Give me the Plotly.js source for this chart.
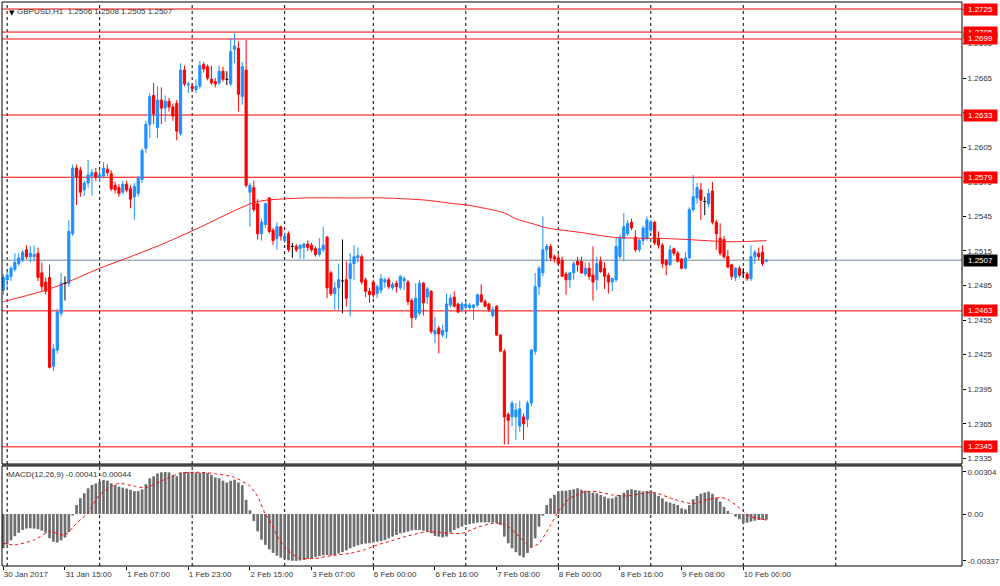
<!DOCTYPE html>
<html>
<head>
<meta charset="utf-8">
<script src="https://cdn.plot.ly/plotly-3.0.1.min.js"></script>
<style>html,body{margin:0;padding:0;background:#fff;}#chart{width:1000px;height:586px;}</style>
</head>
<body>
<div id="chart"></div>
<script>
// ---------- DATA ----------
const symbolTitle = "GBPUSD,H1";
const open = [
1.2481,1.2490,1.2493,1.2499,1.2504,1.2507,1.2516,1.2510,1.2510,1.2513,
1.2496,1.2488,1.2492,1.2415,1.2429,1.2461,1.2487,1.2487,1.2530,1.2587,
1.2585,1.2568,1.2574,1.2580,1.2583,1.2579,1.2580,1.2586,1.2582,1.2572,
1.2570,1.2566,1.2573,1.2569,1.2562,1.2565,1.2577,1.2604,1.2625,1.2650,
1.2622,1.2646,1.2639,1.2645,1.2640,1.2643,1.2617,1.2672,1.2659,1.2658,
1.2655,1.2658,1.2677,1.2675,1.2664,1.2662,1.2661,1.2671,1.2664,1.2660,
1.2690,1.2691,1.2649,1.2672,1.2566,1.2570,1.2556,1.2530,1.2538,1.2561,
1.2533,1.2526,1.2536,1.2524,1.2530,1.2519,1.2519,1.2517,1.2518,1.2521,
1.2520,1.2517,1.2512,1.2516,1.2527,1.2496,1.2478,1.2483,1.2489,1.2490,
1.2491,1.2504,1.2509,1.2510,1.2490,1.2480,1.2488,1.2478,1.2481,1.2488,
1.2490,1.2483,1.2487,1.2483,1.2489,1.2488,1.2472,1.2457,1.2461,1.2487,
1.2475,1.2480,1.2443,1.2448,1.2442,1.2445,1.2468,1.2475,1.2469,1.2464,
1.2466,1.2466,1.2466,1.2468,1.2477,1.2471,1.2469,1.2459,1.2467,1.2442,
1.2428,1.2373,1.2371,1.2371,1.2363,1.2371,1.2369,1.2383,1.2428,1.2484,
1.2496,1.2516,1.2519,1.2510,1.2509,1.2507,1.2495,1.2490,1.2496,1.2506,
1.2506,1.2495,1.2500,1.2494,1.2490,1.2506,1.2500,1.2494,1.2488,1.2490,
1.2510,1.2526,1.2530,1.2540,1.2527,1.2516,1.2524,1.2526,1.2533,1.2540,
1.2526,1.2520,1.2507,1.2503,1.2517,1.2513,1.2508,1.2500,1.2509,1.2551,
1.2561,1.2568,1.2558,1.2556,1.2567,1.2540,1.2526,1.2525,1.2510,1.2503,
1.2492,1.2500,1.2496,1.2495,1.2491,1.2510,1.2513,1.2514,1.2506
];
const high = [
1.2495,1.2497,1.2502,1.2513,1.2513,1.2516,1.2520,1.2519,1.2520,1.2518,
1.2505,1.2492,1.2503,1.2434,1.2465,1.2496,1.2493,1.2542,1.2590,1.2590,
1.2588,1.2576,1.2594,1.2586,1.2587,1.2586,1.2592,1.2590,1.2585,1.2575,
1.2573,1.2576,1.2576,1.2572,1.2574,1.2580,1.2604,1.2628,1.2652,1.2661,
1.2658,1.2657,1.2650,1.2648,1.2643,1.2646,1.2678,1.2676,1.2662,1.2660,
1.2664,1.2680,1.2679,1.2677,1.2676,1.2665,1.2676,1.2675,1.2671,1.2699,
1.2704,1.2697,1.2679,1.2698,1.2574,1.2576,1.2560,1.2543,1.2557,1.2562,
1.2535,1.2540,1.2537,1.2531,1.2532,1.2522,1.2521,1.2521,1.2522,1.2524,
1.2522,1.2519,1.2526,1.2536,1.2528,1.2498,1.2488,1.2504,1.2525,1.2506,
1.2513,1.2520,1.2518,1.2512,1.2492,1.2483,1.2490,1.2486,1.2495,1.2492,
1.2492,1.2488,1.2489,1.2494,1.2493,1.2490,1.2474,1.2487,1.2490,1.2488,
1.2484,1.2481,1.2458,1.2450,1.2451,1.2478,1.2477,1.2480,1.2470,1.2471,
1.2471,1.2470,1.2469,1.2478,1.2486,1.2473,1.2470,1.2467,1.2468,1.2443,
1.2430,1.2375,1.2385,1.2383,1.2385,1.2374,1.2385,1.2430,1.2496,1.2502,
1.2545,1.2521,1.2521,1.2512,1.2512,1.2510,1.2497,1.2497,1.2506,1.2510,
1.2510,1.2505,1.2505,1.2519,1.2510,1.2510,1.2505,1.2496,1.2492,1.2527,
1.2529,1.2548,1.2542,1.2543,1.2533,1.2526,1.2537,1.2545,1.2542,1.2541,
1.2532,1.2522,1.2508,1.2520,1.2518,1.2515,1.2509,1.2514,1.2553,1.2581,
1.2574,1.2574,1.2562,1.2569,1.2575,1.2542,1.2539,1.2528,1.2516,1.2504,
1.2501,1.2502,1.2500,1.2497,1.2520,1.2516,1.2518,1.2520,1.2508
];
const low = [
1.2477,1.2484,1.2489,1.2497,1.2502,1.2505,1.2508,1.2505,1.2506,1.2489,
1.2480,1.2477,1.2413,1.2411,1.2426,1.2458,1.2472,1.2484,1.2528,1.2555,
1.2562,1.2563,1.2570,1.2563,1.2576,1.2575,1.2578,1.2580,1.2567,1.2565,
1.2562,1.2564,1.2566,1.2552,1.2542,1.2562,1.2574,1.2600,1.2613,1.2625,
1.2613,1.2625,1.2627,1.2636,1.2628,1.2611,1.2615,1.2658,1.2652,1.2653,
1.2652,1.2656,1.2670,1.2663,1.2659,1.2657,1.2659,1.2662,1.2659,1.2658,
1.2678,1.2636,1.2642,1.2570,1.2536,1.2549,1.2525,1.2524,1.2535,1.2530,
1.2520,1.2516,1.2524,1.2522,1.2514,1.2509,1.2514,1.2508,1.2508,1.2515,
1.2514,1.2510,1.2510,1.2514,1.2474,1.2476,1.2464,1.2464,1.2461,1.2467,
1.2458,1.2490,1.2505,1.2486,1.2475,1.2470,1.2474,1.2474,1.2478,1.2483,
1.2482,1.2481,1.2479,1.2481,1.2481,1.2468,1.2448,1.2455,1.2459,1.2459,
1.2469,1.2443,1.2435,1.2426,1.2440,1.2439,1.2466,1.2466,1.2461,1.2462,
1.2464,1.2464,1.2455,1.2466,1.2470,1.2466,1.2462,1.2457,1.2441,1.2427,
1.2347,1.2347,1.2363,1.2351,1.2358,1.2351,1.2362,1.2380,1.2425,1.2477,
1.2493,1.2506,1.2506,1.2505,1.2503,1.2493,1.2477,1.2483,1.2490,1.2497,
1.2495,1.2493,1.2490,1.2472,1.2481,1.2496,1.2482,1.2478,1.2480,1.2488,
1.2508,1.2506,1.2528,1.2533,1.2514,1.2514,1.2520,1.2524,1.2531,1.2520,
1.2517,1.2500,1.2494,1.2502,1.2511,1.2505,1.2499,1.2499,1.2508,1.2549,
1.2556,1.2542,1.2546,1.2553,1.2538,1.2516,1.2511,1.2508,1.2500,1.2490,
1.2489,1.2492,1.2492,1.2489,1.2489,1.2504,1.2507,1.2502,1.2505
];
const close = [
1.2492,1.2494,1.2500,1.2505,1.2509,1.2514,1.2510,1.2513,1.2512,1.2492,
1.2484,1.2480,1.2414,1.2430,1.2462,1.2487,1.2487,1.2532,1.2587,1.2579,
1.2566,1.2574,1.2581,1.2583,1.2579,1.2581,1.2587,1.2583,1.2569,1.2568,
1.2565,1.2573,1.2568,1.2560,1.2571,1.2578,1.2602,1.2625,1.2649,1.2634,
1.2646,1.2639,1.2645,1.2640,1.2632,1.2619,1.2672,1.2660,1.2660,1.2656,
1.2658,1.2676,1.2673,1.2665,1.2661,1.2660,1.2671,1.2664,1.2664,1.2688,
1.2693,1.2651,1.2675,1.2572,1.2572,1.2551,1.2530,1.2540,1.2556,1.2532,
1.2524,1.2536,1.2528,1.2528,1.2516,1.2519,1.2516,1.2520,1.2521,1.2518,
1.2516,1.2512,1.2517,1.2520,1.2483,1.2478,1.2483,1.2490,1.2489,1.2474,
1.2504,1.2510,1.2511,1.2488,1.2480,1.2477,1.2477,1.2484,1.2491,1.2490,
1.2484,1.2486,1.2484,1.2493,1.2491,1.2471,1.2457,1.2474,1.2487,1.2470,
1.2482,1.2445,1.2446,1.2443,1.2446,1.2469,1.2474,1.2467,1.2462,1.2469,
1.2469,1.2468,1.2468,1.2477,1.2471,1.2467,1.2464,1.2464,1.2442,1.2428,
1.2371,1.2368,1.2383,1.2377,1.2378,1.2365,1.2383,1.2429,1.2484,1.2500,
1.2516,1.2519,1.2509,1.2508,1.2504,1.2493,1.2490,1.2496,1.2504,1.2503,
1.2496,1.2500,1.2493,1.2488,1.2504,1.2497,1.2493,1.2488,1.2491,1.2519,
1.2526,1.2536,1.2539,1.2535,1.2516,1.2524,1.2535,1.2542,1.2540,1.2522,
1.2520,1.2504,1.2503,1.2516,1.2513,1.2506,1.2500,1.2509,1.2551,1.2562,
1.2570,1.2559,1.2558,1.2565,1.2540,1.2530,1.2513,1.2510,1.2501,1.2493,
1.2500,1.2494,1.2496,1.2491,1.2510,1.2514,1.2510,1.2504,1.2507
];
// moving average line (read at these bars)
const maBars = [0,10,16,25,33,42,50,55,60,65,68,78,90,99,110,117,120,125,130,133,138,141,150,158,166,170,177,189,198];
const maVals = [1.2471,1.2480,1.2487,1.2500,1.2510,1.2522,1.2534,1.2542,1.2550,1.2557,1.2559,1.2561,1.2561,1.2561,1.2559,1.2556,1.2555,1.2552,1.2548,1.2543,1.2538,1.2535,1.2531,1.2527,1.2526,1.2526,1.2525,1.2523,1.2524];
// MACD(12,26,9) main histogram
const macd = [
-0.00247,-0.00220,-0.00190,-0.00160,-0.00135,-0.00115,-0.00105,-0.00103,-0.00105,-0.00110,
-0.00120,-0.00135,-0.00175,-0.00200,-0.00205,-0.00190,-0.00170,-0.00130,-0.00010,0.00065,
0.00113,0.00149,0.00185,0.00209,0.00220,0.00233,0.00245,0.00240,0.00221,0.00210,
0.00197,0.00190,0.00183,0.00175,0.00165,0.00165,0.00177,0.00215,0.00257,0.00272,
0.00292,0.00300,0.00302,0.00300,0.00280,0.00272,0.00298,0.00302,0.00302,0.00303,
0.00300,0.00297,0.00300,0.00296,0.00282,0.00264,0.00257,0.00240,0.00227,0.00240,
0.00247,0.00227,0.00207,0.00102,0.00027,-0.00050,-0.00125,-0.00185,-0.00222,-0.00255,
-0.00280,-0.00300,-0.00315,-0.00325,-0.00333,-0.00337,-0.00337,-0.00335,-0.00330,-0.00325,
-0.00318,-0.00310,-0.00303,-0.00297,-0.00295,-0.00298,-0.00295,-0.00285,-0.00275,-0.00262,
-0.00247,-0.00235,-0.00225,-0.00218,-0.00213,-0.00210,-0.00205,-0.00200,-0.00195,-0.00187,
-0.00175,-0.00163,-0.00151,-0.00139,-0.00134,-0.00127,-0.00118,-0.00115,-0.00115,-0.00120,
-0.00127,-0.00139,-0.00158,-0.00163,-0.00168,-0.00163,-0.00134,-0.00115,-0.00103,-0.00091,
-0.00079,-0.00072,-0.00067,-0.00062,-0.00060,-0.00060,-0.00060,-0.00062,-0.00067,-0.00079,
-0.00163,-0.00211,-0.00247,-0.00275,-0.00300,-0.00312,-0.00280,-0.00240,-0.00175,-0.00091,
-0.00012,0.00065,0.00113,0.00137,0.00161,0.00168,0.00168,0.00173,0.00178,0.00185,
0.00175,0.00168,0.00161,0.00154,0.00149,0.00137,0.00125,0.00113,0.00113,0.00125,
0.00137,0.00154,0.00173,0.00178,0.00173,0.00168,0.00163,0.00166,0.00171,0.00154,
0.00130,0.00113,0.00089,0.00082,0.00074,0.00065,0.00041,0.00034,0.00065,0.00106,
0.00130,0.00146,0.00154,0.00161,0.00146,0.00118,0.00089,0.00051,0.00022,0.00003,
-0.00019,-0.00038,-0.00067,-0.00062,-0.00055,-0.00048,-0.00043,-0.00043,-0.00041
];
// MACD signal line (read at these bars)
const sigBars = [0,3,8,12,16,19,22,25,28,30,34,37,42,46,51,55,60,64,66,68,69,71,73,75,77,81,85,90,94,97,100,104,110,113,119,123,127,130,133,137,139,142,144,147,151,154,158,162,166,169,174,179,183,186,188,192,194,197,198];
const sigVals = [-0.00211,-0.00223,-0.00187,-0.00127,-0.00151,-0.00067,0.00010,0.00140,0.00197,0.00221,0.00200,0.00190,0.00250,0.00295,0.00300,0.00290,0.00264,0.00200,0.00125,0.00000,-0.00040,-0.00155,-0.00240,-0.00290,-0.00320,-0.00320,-0.00300,-0.00283,-0.00255,-0.00223,-0.00199,-0.00165,-0.00127,-0.00134,-0.00139,-0.00096,-0.00067,-0.00072,-0.00139,-0.00240,-0.00211,-0.00080,0.00017,0.00113,0.00161,0.00161,0.00137,0.00130,0.00149,0.00154,0.00106,0.00074,0.00106,0.00118,0.00106,0.00020,-0.00020,-0.00038,-0.00044];
const macdMain = -0.00041, macdSignal = -0.00044;
// horizontal levels and current price
const levels = [1.2725, 1.2705, 1.2699, 1.2633, 1.2579, 1.2463, 1.2345];
const lastPrice = 1.2507;
// time axis
const xTickBars = [0,16,32,48,64,80,96,112,128,144,160,176,192];
const xTickLabels = ["30 Jan 2017","31 Jan 15:00","1 Feb 07:00","1 Feb 23:00","2 Feb 15:00","3 Feb 07:00","6 Feb 00:00","6 Feb 16:00","7 Feb 08:00","8 Feb 00:00","8 Feb 16:00","9 Feb 08:00","10 Feb 00:00"];
const dayStartBars = [1,25,49,73,96,120,144,168,192,216];
const macdTicks = [0.00304, 0, -0.00337];
const macdTickText = ["0.00304","0.00","-0.00337"];

// ---------- BUILD ----------
const FONT = "Liberation Sans, Arial, sans-serif";
const TXT = "#333333";
const n = close.length;
const idx = [...Array(n).keys()];
const reg = idx.filter(i => open[i] !== close[i]);
const doj = idx.filter(i => open[i] === close[i]);

const candles = {
  type: "candlestick", xaxis: "x", yaxis: "y",
  x: reg, open: reg.map(i=>open[i]), high: reg.map(i=>high[i]), low: reg.map(i=>low[i]), close: reg.map(i=>close[i]),
  increasing: {line: {color: "#1E90FF", width: 1}, fillcolor: "#1E90FF"},
  decreasing: {line: {color: "#FF0000", width: 1}, fillcolor: "#FF0000"},
  whiskerwidth: 0, hoverinfo: "skip"
};
const dx = [], dy = [];
doj.forEach(i => { dx.push(i, i, null, i - 0.4, i + 0.4, null); dy.push(low[i], high[i], null, open[i], open[i], null); });
const dojiTrace = {type: "scatter", mode: "lines", x: dx, y: dy, xaxis: "x", yaxis: "y",
  line: {color: "#000", width: 1}, hoverinfo: "skip", connectgaps: false};
const maTrace = {type: "scatter", mode: "lines", x: maBars, y: maVals, xaxis: "x", yaxis: "y",
  line: {color: "#FF2020", width: 1, shape: "spline", smoothing: 0.8}, hoverinfo: "skip"};
const histTrace = {type: "bar", x: idx, y: macd, xaxis: "x", yaxis: "y2",
  marker: {color: "#6E6E6E", line: {width: 0}}, hoverinfo: "skip"};
const sigTrace = {type: "scatter", mode: "lines", x: sigBars, y: sigVals, xaxis: "x", yaxis: "y2",
  line: {color: "#FF0000", width: 1, dash: "dot", shape: "spline", smoothing: 0.6}, hoverinfo: "skip"};

// geometry of the panels (pixels of the 1000x586 picture)
const plotTop = 2, plotBot = 566, mainBot = 464, macdTop = 466;
const ph = plotBot - plotTop;
const mainDom = [(plotBot - mainBot) / ph, 1];
const macdDom = [0, (plotBot - macdTop) / ph];

const shapes = [];
dayStartBars.forEach(b => shapes.push({type: "line", xref: "x", yref: "paper", x0: b, x1: b, y0: 0, y1: 1,
  line: {color: "#000", width: 1, dash: "3px,3px"}, layer: "below"}));
levels.forEach(v => shapes.push({type: "line", xref: "paper", yref: "y", x0: 0, x1: 1, y0: v, y1: v,
  line: {color: "#FF0000", width: 1}, layer: "below"}));
shapes.push({type: "line", xref: "paper", yref: "y", x0: 0, x1: 1, y0: lastPrice, y1: lastPrice,
  line: {color: "#778899", width: 1}, layer: "below"});
shapes.push({type: "rect", xref: "paper", yref: "paper", x0: 0, x1: 1, y0: macdDom[1], y1: mainDom[0],
  fillcolor: "#8A8A8A", line: {width: 0}});
shapes.push({type: "rect", xref: "paper", yref: "paper", x0: 0, x1: 1, y0: mainDom[0], y1: 1,
  line: {color: "#000", width: 1}, fillcolor: "rgba(0,0,0,0)"});
shapes.push({type: "rect", xref: "paper", yref: "paper", x0: 0, x1: 1, y0: 0, y1: macdDom[1],
  line: {color: "#000", width: 1}, fillcolor: "rgba(0,0,0,0)"});

const annotations = [];
levels.slice().sort((a,b)=>a-b).forEach(v => annotations.push({xref: "paper", yref: "y", x: 1, y: v,
  xanchor: "left", yanchor: "middle", xshift: 1, showarrow: false, text: v.toFixed(4),
  bgcolor: "#FF0000", borderpad: 1, width: 31, height: 9, font: {family: FONT, size: 8, color: "#fff"}}));
// draw 1.2699 on top of 1.2705 like the picture
annotations.sort((a,b)=> (a.y===1.2699?1:0) - (b.y===1.2699?1:0));
annotations.push({xref: "paper", yref: "y", x: 1, y: lastPrice, xanchor: "left", yanchor: "middle", xshift: 1,
  showarrow: false, text: lastPrice.toFixed(4), bgcolor: "#000", borderpad: 1, width: 31, height: 9,
  font: {family: FONT, size: 8, color: "#fff"}});
const last = n - 1;
annotations.push({xref: "paper", yref: "paper", x: 0, y: 1, xanchor: "left", yanchor: "top", xshift: 5, yshift: -5,
  showarrow: false, text: "▼", font: {family: "DejaVu Sans", size: 7, color: "#000"}});
annotations.push({xref: "paper", yref: "paper", x: 0, y: 1, xanchor: "left", yanchor: "top", xshift: 13, yshift: -3,
  showarrow: false, text: symbolTitle + "  " + [open[last], high[last], low[last], close[last]].map(v=>v.toFixed(4)).join(" "),
  font: {family: FONT, size: 8, color: TXT}});
annotations.push({xref: "paper", yref: "paper", x: 0, y: macdDom[1], xanchor: "left", yanchor: "top", xshift: 4, yshift: -2,
  showarrow: false, text: "MACD(12,26,9) " + macdMain.toFixed(5) + " " + macdSignal.toFixed(5),
  font: {family: FONT, size: 8, color: TXT}});

const tickFont = {family: FONT, size: 8, color: TXT};
const layout = {
  width: 1000, height: 586,
  margin: {l: 2, r: 38, t: plotTop, b: 586 - plotBot, pad: 0},
  paper_bgcolor: "#fff", plot_bgcolor: "#fff", showlegend: false,
  bargap: 0.3, boxgap: 0.2,
  xaxis: {anchor: "y2", range: [-0.34, 248.75], tickmode: "array", tickvals: xTickBars, ticktext: xTickLabels,
    ticks: "outside", ticklen: 3, tickcolor: "#000", showgrid: false, zeroline: false, showline: false,
    rangeslider: {visible: false}, tickfont: tickFont, ticklabelposition: "outside right", fixedrange: true},
  yaxis: {domain: mainDom, range: [1.23301, 1.27311], side: "right", anchor: "x", tick0: 1.2335, dtick: 0.003,
    tickformat: ".4f", ticks: "outside", ticklen: 3, tickcolor: "#000", showgrid: false, zeroline: false,
    showline: false, tickfont: tickFont, fixedrange: true},
  yaxis2: {domain: macdDom, range: [-0.003745, 0.003457], side: "right", anchor: "x", tickmode: "array",
    tickvals: macdTicks, ticktext: macdTickText, ticks: "outside", ticklen: 3, tickcolor: "#000",
    showgrid: false, zeroline: false, showline: false, tickfont: tickFont, fixedrange: true},
  shapes: shapes, annotations: annotations
};
Plotly.newPlot("chart", [histTrace, sigTrace, maTrace, candles, dojiTrace], layout, {staticPlot: true, displayModeBar: false});
</script>
</body>
</html>
